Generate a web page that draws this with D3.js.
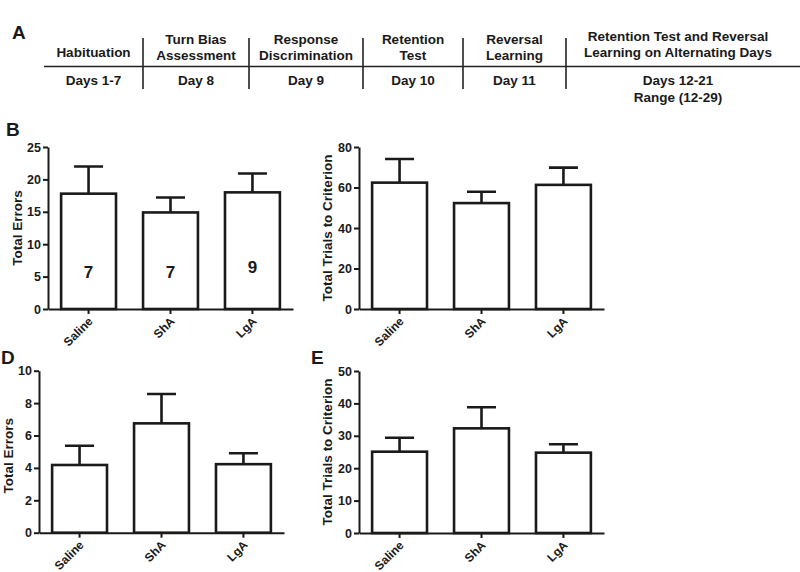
<!DOCTYPE html>
<html>
<head>
<meta charset="utf-8">
<script src="https://cdn.jsdelivr.net/npm/d3@7"></script>
<style>
  body { margin: 0; background: #fff; }
  svg text { font-family: "Liberation Sans", Arial, sans-serif; font-weight: bold; fill: #1a1a1a; }
</style>
</head>
<body>
<div id="vis"></div>
<script>
const width = 800;
const height = 572;

// timeline (panel A)
const stageHeads = [
    ["Habituation"],
    ["Turn Bias", "Assessment"],
    ["Response", "Discrimination"],
    ["Retention", "Test"],
    ["Reversal", "Learning"],
    ["Retention Test and Reversal", "Learning on Alternating Days"]
];
const stageDays = [
    ["Days 1-7"],
    ["Day 8"],
    ["Day 9"],
    ["Day 10"],
    ["Day 11"],
    ["Days 12-21", "Range (12-29)"]
];

// bar panels
const groups = ["Saline", "ShA", "LgA"];
const errorsB = [17.8, 14.9, 18.0];
const errorsBSem = [4.2, 2.3, 2.9];
const groupN = [7, 7, 9];
const trialsC = [62.4, 52.3, 61.3];
const trialsCSem = [11.7, 5.6, 8.5];
const errorsD = [4.18, 6.75, 4.23];
const errorsDSem = [1.19, 1.81, 0.67];
const trialsE = [25.1, 32.3, 24.8];
const trialsESem = [4.3, 6.5, 2.6];

const svg = d3.select("#vis").append("svg")
    .attr("width", width)
    .attr("height", height);

// ---- panel A ----
const colEdges = [44, 143, 249, 363, 463, 566, 790];
const lineY = 66.5;

svg.append("text").attr("x", 12).attr("y", 39)
    .style("font-size", "19px").text("A");

svg.append("line")
    .attr("x1", 44).attr("x2", 800)
    .attr("y1", lineY).attr("y2", lineY)
    .attr("stroke", "#222").attr("stroke-width", 1.6);

colEdges.slice(1, -1).forEach(x => {
    svg.append("line")
        .attr("x1", x).attr("x2", x)
        .attr("y1", 38).attr("y2", 89)
        .attr("stroke", "#222").attr("stroke-width", 1.6);
});

stageHeads.forEach((lines, i) => {
    let cx = (colEdges[i] + colEdges[i + 1]) / 2;
    let ys = lines.length === 1 ? [57] : (i === 5 ? [41, 57] : [44, 60]);
    lines.forEach((t, j) => {
        svg.append("text")
            .attr("x", cx).attr("y", ys[j])
            .attr("text-anchor", "middle")
            .style("font-size", "13.5px")
            .text(t);
    });
    stageDays[i].forEach((t, j) => {
        svg.append("text")
            .attr("x", cx).attr("y", 85 + j * 17)
            .attr("text-anchor", "middle")
            .style("font-size", "13.5px")
            .text(t);
    });
});

// ---- bar panels ----
function barPanel(opts) {
    let g = svg.append("g");
    let x = d3.scaleBand()
        .domain(groups)
        .range([opts.x0, opts.x0 + 245])
        .paddingInner(0.33)
        .paddingOuter(0.16);
    let y = d3.scaleLinear()
        .domain([0, opts.max])
        .range([opts.y0, opts.y0 - 162]);

    let rows = groups.map((k, i) => ({ k: k, v: opts.values[i], e: opts.sem[i] }));

    // bars
    g.selectAll("rect").data(rows).enter().append("rect")
        .attr("x", d => x(d.k))
        .attr("y", d => y(d.v))
        .attr("width", x.bandwidth())
        .attr("height", d => y(0) - y(d.v))
        .attr("fill", "#fff")
        .attr("stroke", "#1a1a1a")
        .attr("stroke-width", 2.6);

    // error bars
    let cap = 29;
    g.selectAll(".err").data(rows).enter().append("path")
        .attr("class", "err")
        .attr("d", d => {
            let cx = x(d.k) + x.bandwidth() / 2;
            return `M${cx},${y(d.v)}V${y(d.v + d.e)}M${cx - cap / 2},${y(d.v + d.e)}H${cx + cap / 2}`;
        })
        .attr("fill", "none")
        .attr("stroke", "#1a1a1a")
        .attr("stroke-width", 2.6);

    // y axis
    let ya = g.append("g")
        .attr("transform", `translate(${opts.x0},0)`)
        .call(d3.axisLeft(y).tickValues(d3.range(0, opts.max + 0.001, opts.step)).tickSize(5).tickPadding(2).tickSizeOuter(0));
    ya.select(".domain").attr("stroke", "#1a1a1a").attr("stroke-width", 2);
    ya.selectAll(".tick line").attr("stroke", "#1a1a1a").attr("stroke-width", 2);
    ya.selectAll(".tick text")
        .style("font-family", "'Liberation Sans', Arial, sans-serif")
        .style("font-weight", "bold")
        .style("font-size", "12.5px")
        .attr("fill", "#1a1a1a");

    // x axis
    let xa = g.append("g")
        .attr("transform", `translate(0,${opts.y0})`)
        .call(d3.axisBottom(x).tickSize(5).tickSizeOuter(0).tickFormat(""));
    xa.select(".domain").attr("stroke", "#1a1a1a").attr("stroke-width", 2);
    xa.selectAll(".tick line").attr("stroke", "#1a1a1a").attr("stroke-width", 2);

    groups.forEach(k => {
        let cx = x(k) + x.bandwidth() / 2;
        g.append("text")
            .attr("transform", `translate(${cx + 5},${opts.y0 + 13}) rotate(-45)`)
            .attr("text-anchor", "end")
            .style("font-size", "12px")
            .text(k);
    });

    // y label
    g.append("text")
        .attr("transform", `translate(${opts.labelX},${opts.y0 - 81 + (opts.labelDy || 0)}) rotate(-90)`)
        .attr("text-anchor", "middle")
        .style("font-size", "13.5px")
        .text(opts.label);

    if (opts.panel) {
        g.append("text")
            .attr("x", opts.panel[1]).attr("y", opts.panel[2])
            .style("font-size", "19px")
            .text(opts.panel[0]);
    }
    if (opts.n) {
        g.selectAll(".n").data(rows).enter().append("text")
            .attr("class", "n")
            .attr("x", d => x(d.k) + x.bandwidth() / 2)
            .attr("y", (d, i) => opts.y0 - (opts.n[i] === 9 ? 36 : 31))
            .attr("text-anchor", "middle")
            .style("font-size", "17px")
            .text((d, i) => opts.n[i]);
    }
}

barPanel({ x0: 48, y0: 309, max: 25, step: 5, values: errorsB, sem: errorsBSem,
    label: "Total Errors", labelX: 22, panel: ["B", 6, 136], n: groupN });
barPanel({ x0: 359, y0: 309, max: 80, step: 20, values: trialsC, sem: trialsCSem,
    label: "Total Trials to Criterion", labelX: 332 });
barPanel({ x0: 39, y0: 532.7, max: 10, step: 2, values: errorsD, sem: errorsDSem,
    label: "Total Errors", labelX: 13, labelDy: 4, panel: ["D", 1, 364] });
barPanel({ x0: 359, y0: 533, max: 50, step: 10, values: trialsE, sem: trialsESem,
    label: "Total Trials to Criterion", labelX: 332, panel: ["E", 311, 364] });
</script>
</body>
</html>
